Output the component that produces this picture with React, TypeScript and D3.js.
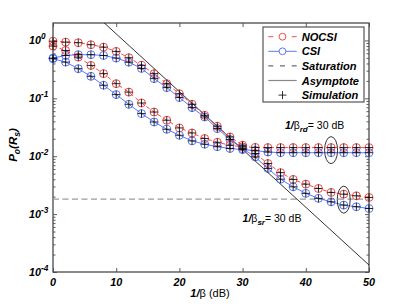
import React, { useRef, useEffect } from 'react';
import * as d3 from 'd3';

// 1/beta in dB, one point every 2 dB
const snrDb = [0, 2, 4, 6, 8, 10, 12, 14, 16, 18, 20, 22, 24, 26, 28, 30, 32, 34, 36, 38, 40, 42, 44, 46, 48, 50];

// 1/beta_sr = 30 dB
const nocsiSr = [0.97, 0.935, 0.913, 0.843, 0.766, 0.646, 0.503, 0.371, 0.267, 0.179, 0.12, 0.079, 0.0509, 0.0329, 0.0215, 0.0155, 0.0111, 0.00748, 0.0052, 0.00397, 0.00329, 0.00277, 0.00237, 0.00221, 0.00207, 0.00194];
const csiSr = [0.495, 0.55, 0.567, 0.567, 0.55, 0.495, 0.42, 0.329, 0.219, 0.153, 0.103, 0.069, 0.0476, 0.03, 0.0194, 0.0135, 0.0097, 0.00614, 0.00401, 0.00296, 0.00228, 0.00187, 0.00163, 0.00143, 0.00134, 0.00125];

// 1/beta_rd = 30 dB
const nocsiRd = [0.8, 0.67, 0.515, 0.37, 0.267, 0.179, 0.128, 0.083, 0.058, 0.0418, 0.0308, 0.0252, 0.0202, 0.0174, 0.0155, 0.0145, 0.0142, 0.0141, 0.0141, 0.0141, 0.0141, 0.0141, 0.0141, 0.0141, 0.0141, 0.0141];
const csiRd = [0.483, 0.422, 0.325, 0.24, 0.168, 0.116, 0.0788, 0.0545, 0.039, 0.0292, 0.023, 0.0184, 0.0161, 0.0146, 0.0136, 0.013, 0.0125, 0.0118, 0.0115, 0.0115, 0.0115, 0.0115, 0.0115, 0.0115, 0.0115, 0.0115];

const saturationLevel = 0.00181;
const asymptoteDb = [5, 50];
const asymptoteVal = [4.1, 1.32e-4];

const xTicks = [0, 10, 20, 30, 40, 50];
const yTickExp = [0, -1, -2, -3, -4];
const legendLabels = ['NOCSI', 'CSI', 'Saturation', 'Asymptote', 'Simulation'];

// ellipses: [dB, which curve pair]
const ellipseDb = [44, 46];
const ellipsePairs = [[nocsiRd, csiRd], [nocsiSr, csiSr]];
// text notes: anchor dB, anchor value, subscript
const noteDb = [36.7, 30];
const noteVal = [0.0295, 7.3e-4];
const noteSub = ['rd', 'sr'];

const W = 407;
const H = 306;
const margin = { top: 23, right: 38, bottom: 34, left: 53 };
const red = '#ee3a3a';
const blue = '#4a6af0';
const font = '"Liberation Sans", Arial, Helvetica, sans-serif';

export default function App() {
  const svgRef = useRef<SVGSVGElement>(null);

  useEffect(() => {
    const svg = d3.select(svgRef.current);
    svg.selectAll('*').remove();

    const iw = W - margin.left - margin.right;
    const ih = H - margin.top - margin.bottom;
    const x = d3.scaleLinear().domain([0, 50]).range([0, iw]);
    const y = d3.scaleLog().domain([1e-4, 2]).range([ih, 0]);

    svg.append('rect').attr('width', W).attr('height', H).attr('fill', '#fff');
    svg.append('defs').append('clipPath').attr('id', 'plot-clip')
      .append('rect').attr('width', iw).attr('height', ih);

    const g = svg.append('g').attr('transform', `translate(${margin.left},${margin.top})`);

    // ticks (inward, all four sides)
    const yMajor = yTickExp.map(e => Math.pow(10, e));
    const yMinor: number[] = [];
    yTickExp.slice(1).forEach(e => {
      for (let k = 2; k <= 9; k++) yMinor.push(k * Math.pow(10, e));
    });
    const tickStyle = (sel: any) => {
      sel.select('.domain').remove();
      sel.selectAll('line').attr('stroke', '#333').attr('stroke-width', 0.8);
    };
    g.append('g').attr('transform', `translate(0,${ih})`)
      .call(d3.axisBottom(x).tickValues(xTicks).tickSizeInner(-4).tickSizeOuter(0).tickFormat(() => ''))
      .call(tickStyle);
    g.append('g')
      .call(d3.axisTop(x).tickValues(xTicks).tickSizeInner(-4).tickSizeOuter(0).tickFormat(() => ''))
      .call(tickStyle);
    g.append('g')
      .call(d3.axisLeft(y).tickValues(yMajor).tickSizeInner(-4).tickSizeOuter(0).tickFormat(() => ''))
      .call(tickStyle);
    g.append('g')
      .call(d3.axisLeft(y).tickValues(yMinor).tickSizeInner(-2.5).tickSizeOuter(0).tickFormat(() => ''))
      .call(tickStyle);
    g.append('g').attr('transform', `translate(${iw},0)`)
      .call(d3.axisRight(y).tickValues(yMajor).tickSizeInner(-4).tickSizeOuter(0).tickFormat(() => ''))
      .call(tickStyle);
    g.append('g').attr('transform', `translate(${iw},0)`)
      .call(d3.axisRight(y).tickValues(yMinor).tickSizeInner(-2.5).tickSizeOuter(0).tickFormat(() => ''))
      .call(tickStyle);

    // tick labels
    g.selectAll('.xlab').data(xTicks).enter().append('text')
      .attr('x', d => x(d)).attr('y', ih + 14)
      .attr('text-anchor', 'middle')
      .attr('font-family', font).attr('font-size', 10.8)
      .attr('font-weight', 'bold').attr('font-style', 'italic')
      .text(d => String(d));

    const ylab = g.selectAll('.ylab').data(yTickExp).enter().append('text')
      .attr('x', -24).attr('y', d => y(Math.pow(10, d)) + 4)
      .attr('font-family', font).attr('font-weight', 'bold').attr('font-style', 'italic');
    ylab.append('tspan').attr('font-size', 10.8).text('10');
    ylab.append('tspan').attr('font-size', 8.2).attr('dy', -5).text(d => String(d));

    // frame
    g.append('rect').attr('width', iw).attr('height', ih)
      .attr('fill', 'none').attr('stroke', '#4a4a4a').attr('stroke-width', 1.3);

    // saturation
    g.append('line')
      .attr('x1', x(0)).attr('x2', x(50))
      .attr('y1', y(saturationLevel)).attr('y2', y(saturationLevel))
      .attr('stroke', '#9a9a9a').attr('stroke-width', 1.3).attr('stroke-dasharray', '6,3.5');

    // asymptote
    const asym = d3.line<number>().x((d, i) => x(asymptoteDb[i])).y(d => y(d));
    g.append('path').attr('clip-path', 'url(#plot-clip)')
      .attr('d', asym(asymptoteVal))
      .attr('fill', 'none').attr('stroke', '#000').attr('stroke-width', 0.8);

    const series = [
      { vals: nocsiSr, color: red, dash: '4,3' },
      { vals: csiSr, color: blue, dash: null },
      { vals: nocsiRd, color: red, dash: '4,3' },
      { vals: csiRd, color: blue, dash: null },
    ];
    const line = d3.line<number>().x((d, i) => x(snrDb[i])).y(d => y(d));
    series.forEach(s => {
      g.append('path').attr('d', line(s.vals))
        .attr('fill', 'none').attr('stroke', s.color).attr('stroke-width', 0.9)
        .attr('stroke-dasharray', s.dash);
    });
    series.forEach(s => {
      g.append('g').selectAll('circle').data(s.vals).enter().append('circle')
        .attr('cx', (d, i) => x(snrDb[i])).attr('cy', d => y(d)).attr('r', 4)
        .attr('fill', 'none').attr('stroke', s.color).attr('stroke-width', 0.9);
    });
    // simulation markers
    series.forEach(s => {
      g.append('g').selectAll('path').data(s.vals).enter().append('path')
        .attr('d', (d, i) => {
          const cx = x(snrDb[i]);
          const cy = y(d);
          return `M${cx - 4},${cy}H${cx + 4}M${cx},${cy - 4}V${cy + 4}`;
        })
        .attr('stroke', '#000').attr('stroke-width', 0.85);
    });

    // ellipses
    ellipseDb.forEach((db, k) => {
      const idx = snrDb.indexOf(db);
      const [a, b] = ellipsePairs[k];
      g.append('ellipse')
        .attr('cx', x(db)).attr('cy', (y(a[idx]) + y(b[idx])) / 2)
        .attr('rx', 6.5).attr('ry', 13.5)
        .attr('fill', 'none').attr('stroke', '#000').attr('stroke-width', 0.8);
    });

    // notes
    noteDb.forEach((db, k) => {
      const t = g.append('text').attr('x', x(db)).attr('y', y(noteVal[k]))
        .attr('font-family', font).attr('font-size', 10.5);
      t.append('tspan').attr('font-weight', 'bold').attr('font-style', 'italic').text('1/');
      t.append('tspan').text('β');
      t.append('tspan').attr('font-weight', 'bold').attr('font-style', 'italic')
        .attr('font-size', 8).attr('dy', 3).text(noteSub[k]);
      t.append('tspan').attr('dy', -3).text('= 30 dB');
    });

    // axis labels
    const xl = g.append('text').attr('x', iw / 2 - 1).attr('y', ih + 25)
      .attr('text-anchor', 'middle').attr('font-family', font).attr('font-size', 11);
    xl.append('tspan').attr('font-weight', 'bold').attr('font-style', 'italic').text('1/');
    xl.append('tspan').text('β (dB)');

    const yl = svg.append('text').attr('transform', `translate(17,${margin.top + 122}) rotate(-90)`)
      .attr('text-anchor', 'middle').attr('font-family', font).attr('font-size', 11.5)
      .attr('font-weight', 'bold').attr('font-style', 'italic');
    yl.append('tspan').text('P');
    yl.append('tspan').attr('font-size', 8.5).attr('dy', 3).text('o');
    yl.append('tspan').attr('dy', -3).text('(R');
    yl.append('tspan').attr('font-size', 8.5).attr('dy', 3).text('s');
    yl.append('tspan').attr('dy', -3).text(')');

    // legend
    const lg = g.append('g').attr('transform', `translate(${iw - 106},4)`);
    lg.append('rect').attr('width', 101).attr('height', 75)
      .attr('fill', '#fff').attr('stroke', '#555').attr('stroke-width', 1.2);
    legendLabels.forEach((label, i) => {
      const cy = 9.7 + i * 14.6;
      const row = lg.append('g').attr('transform', `translate(0,${cy})`);
      if (i === 0) {
        row.append('line').attr('x1', 5.3).attr('x2', 33.7).attr('stroke', red)
          .attr('stroke-width', 0.9).attr('stroke-dasharray', '5,18.4');
        row.append('circle').attr('cx', 19.5).attr('r', 3.4).attr('fill', 'none').attr('stroke', red).attr('stroke-width', 0.9);
      } else if (i === 1) {
        row.append('line').attr('x1', 5.3).attr('x2', 33.7).attr('stroke', blue).attr('stroke-width', 0.9);
        row.append('circle').attr('cx', 19.5).attr('r', 3.4).attr('fill', '#fff').attr('stroke', blue).attr('stroke-width', 0.9);
      } else if (i === 2) {
        row.append('line').attr('x1', 5.3).attr('x2', 33.7).attr('stroke', '#333')
          .attr('stroke-width', 0.9).attr('stroke-dasharray', '5,6.7');
      } else if (i === 3) {
        row.append('line').attr('x1', 5.3).attr('x2', 33.7).attr('stroke', '#888').attr('stroke-width', 1.2);
      } else {
        row.append('path').attr('d', 'M15.5,0H23.5M19.5,-4V4').attr('stroke', '#000').attr('stroke-width', 0.8);
      }
      row.append('text').attr('x', 38.7).attr('y', 4)
        .attr('font-family', font).attr('font-size', 11.1)
        .attr('font-weight', 'bold').attr('font-style', 'italic')
        .text(label);
    });
  }, []);

  return (
    <svg ref={svgRef} width={W} height={H} style={{ position: 'absolute', left: 0, top: 0 }} />
  );
}
